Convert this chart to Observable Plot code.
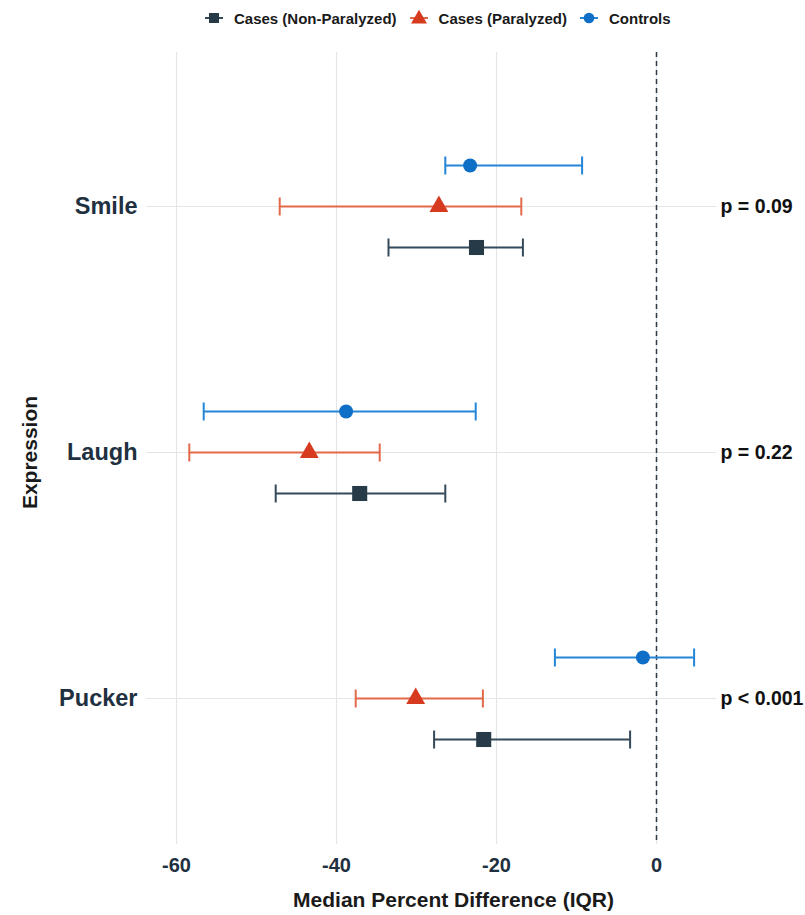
<!DOCTYPE html>
<html>
<head>
<meta charset="utf-8">
<script src="https://cdn.jsdelivr.net/npm/d3@7"></script>
<script src="https://cdn.jsdelivr.net/npm/@observablehq/plot@0.6"></script>
<style>
  body { margin: 0; background: #ffffff; font-family: "Liberation Sans", Arial, sans-serif; }
  #legend { height: 36px; display: flex; align-items: center; padding-left: 204px; box-sizing: border-box; }
  .item { display: flex; align-items: center; margin-right: 12px; font-size: 15px; font-weight: bold; color: #1a1a1a; }
  .item svg { margin-right: 10px; }
  #chart svg { display: block; }
</style>
</head>
<body>
<div id="legend"></div>
<div id="chart"></div>
<script>
// ---- data ----
const expressions = ["Smile", "Laugh", "Pucker"];
const groups = ["Cases (Non-Paralyzed)", "Cases (Paralyzed)", "Controls"];

const nonParMedian = [-22.5, -37.1, -21.6];
const nonParLow    = [-33.5, -47.6, -27.8];
const nonParHigh   = [-16.7, -26.4, -3.3];

const parMedian = [-27.2, -43.4, -30.1];
const parLow    = [-47.1, -58.4, -37.6];
const parHigh   = [-16.9, -34.6, -21.7];

const ctrlMedian = [-23.3, -38.8, -1.7];
const ctrlLow    = [-26.4, -56.6, -12.7];
const ctrlHigh   = [-9.3, -22.6, 4.7];

const pValues = ["p = 0.09", "p = 0.22", "p < 0.001"];
const xTicks = [-60, -40, -20, 0];

// ---- styles ----
const styles = {
  "Cases (Non-Paralyzed)": {fill: "#263a47", line: "#34495a", symbol: "square", r: 8.5, dy: 41},
  "Cases (Paralyzed)":     {fill: "#d63a1f", line: "#e2694a", symbol: "triangle", r: 7, dy: 0},
  "Controls":              {fill: "#0f6fc6", line: "#2385d6", symbol: "circle", r: 7, dy: -41}
};

const series = {
  "Cases (Non-Paralyzed)": [nonParMedian, nonParLow, nonParHigh],
  "Cases (Paralyzed)": [parMedian, parLow, parHigh],
  "Controls": [ctrlMedian, ctrlLow, ctrlHigh]
};

const rows = [];
groups.forEach(g => {
  const [m, lo, hi] = series[g];
  expressions.forEach((e, i) => rows.push({group: g, expr: e, med: m[i], lo: lo[i], hi: hi[i]}));
});
const pRows = expressions.map((e, i) => ({expr: e, p: pValues[i]}));

// vertical cap symbol for the error bars
const capSymbol = {
  draw(context) {
    context.moveTo(0, -9);
    context.lineTo(0, 9);
  }
};

// ---- legend ----
const legend = document.getElementById("legend");
groups.forEach(g => {
  const s = styles[g];
  const item = document.createElement("div");
  item.className = "item";
  const sym = d3.symbol(s.symbol === "square" ? d3.symbolSquare : s.symbol === "triangle" ? d3.symbolTriangle : d3.symbolCircle,
    s.symbol === "square" ? 100 : s.symbol === "triangle" ? 110 : 90)();
  item.innerHTML = `<svg width="20" height="20" viewBox="-10 -10 20 20">
    <line x1="-9" x2="9" y1="0" y2="0" stroke="${s.line}" stroke-width="2"></line>
    <path d="${sym}" fill="${s.fill}" transform="translate(0,${s.symbol === "triangle" ? 1 : 0})"></path></svg><span>${g}</span>`;
  legend.appendChild(item);
});

// ---- chart ----
const groupMarks = groups.flatMap(g => {
  const s = styles[g];
  const data = rows.filter(d => d.group === g);
  return [
    Plot.ruleY(data, {y: "expr", x1: "lo", x2: "hi", stroke: s.line, strokeWidth: 2, dy: s.dy}),
    Plot.dot(data, {x: "lo", y: "expr", symbol: capSymbol, fill: "none", stroke: s.line, strokeWidth: 2, dy: s.dy}),
    Plot.dot(data, {x: "hi", y: "expr", symbol: capSymbol, fill: "none", stroke: s.line, strokeWidth: 2, dy: s.dy}),
    Plot.dot(data, {x: "med", y: "expr", symbol: s.symbol, r: s.r, fill: s.fill, stroke: "none", dy: s.dy})
  ];
});

const chart = Plot.plot({
  width: 805,
  height: 879,
  marginLeft: 146,
  marginRight: 89,
  marginTop: 16,
  marginBottom: 71,
  style: {fontFamily: "'Liberation Sans', Arial, sans-serif", background: "#ffffff"},
  x: {domain: [-63.75, 7.5]},
  y: {type: "point", domain: expressions, range: [170, 662], padding: 0},
  marks: [
    Plot.gridX(xTicks, {stroke: "#e3e5e8", strokeOpacity: 1, strokeWidth: 1.2}),
    Plot.gridY(expressions, {stroke: "#e3e5e8", strokeOpacity: 1, strokeWidth: 1.2}),
    Plot.ruleX([0], {stroke: "#2e3a44", strokeWidth: 1.5, strokeDasharray: "5,4"}),
    ...groupMarks,
    Plot.axisX(xTicks, {tickSize: 0, tickPadding: 13, tickFormat: d => String(d), fontSize: 20, fontWeight: "bold", fill: "#1f3040", label: null}),
    Plot.axisY({tickSize: 0, tickPadding: 9, fontSize: 23.5, fontWeight: "bold", fill: "#1f3040", label: null}),
    Plot.text(["Median Percent Difference (IQR)"], {text: d => d, frameAnchor: "bottom", textAnchor: "middle", lineAnchor: "middle", dx: 22, dy: 56, fontSize: 21, fontWeight: "bold", fill: "#1a1a1a"}),
    Plot.text(["Expression"], {text: d => d, frameAnchor: "left", textAnchor: "middle", lineAnchor: "middle", rotate: -90, dx: -116, dy: 4, fontSize: 21, fontWeight: "bold", fill: "#1a1a1a"}),
    Plot.text(pRows, {y: "expr", text: "p", frameAnchor: "right", textAnchor: "start", dx: 4, fontSize: 19.5, fontWeight: "bold", fill: "#111111"})
  ]
});
document.getElementById("chart").appendChild(chart);
</script>
</body>
</html>
